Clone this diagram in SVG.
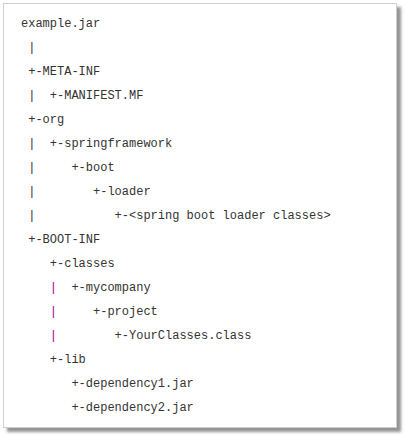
<svg xmlns="http://www.w3.org/2000/svg" width="407" height="438" viewBox="0 0 407 438">
<defs>
<style>
text{font-family:"Liberation Mono","DejaVu Sans Mono",monospace;font-size:12px;fill:#333;}
.p{fill:#990099;}
</style>
<filter id="sh" x="-5%" y="-5%" width="115%" height="115%">
<feDropShadow dx="4" dy="4" stdDeviation="1.8" flood-color="#777" flood-opacity="0.8"/>
</filter>
</defs>
<rect x="3.5" y="3.5" width="393" height="424" fill="#fff" stroke="#cfcfcf" filter="url(#sh)"/>
<g id="tree">
<text x="21" y="27">example.jar</text>
<text x="28.2" y="51">|</text>
<text x="28.2" y="75">+-META-INF</text>
<text x="28.2" y="99">|</text><text x="49.8" y="99">+-MANIFEST.MF</text>
<text x="28.2" y="123">+-org</text>
<text x="28.2" y="147">|</text><text x="49.8" y="147">+-springframework</text>
<text x="28.2" y="171">|</text><text x="71.4" y="171">+-boot</text>
<text x="28.2" y="195">|</text><text x="93" y="195">+-loader</text>
<text x="28.2" y="219">|</text><text x="114.6" y="219">+-&lt;spring boot loader classes&gt;</text>
<text x="28.2" y="243">+-BOOT-INF</text>
<text x="49.8" y="267">+-classes</text>
<text class="p" x="49.8" y="291">|</text><text x="71.4" y="291">+-mycompany</text>
<text class="p" x="49.8" y="315">|</text><text x="93" y="315">+-project</text>
<text class="p" x="49.8" y="339">|</text><text x="114.6" y="339">+-YourClasses.class</text>
<text x="49.8" y="363">+-lib</text>
<text x="71.4" y="387">+-dependency1.jar</text>
<text x="71.4" y="411">+-dependency2.jar</text>
</g>
</svg>
